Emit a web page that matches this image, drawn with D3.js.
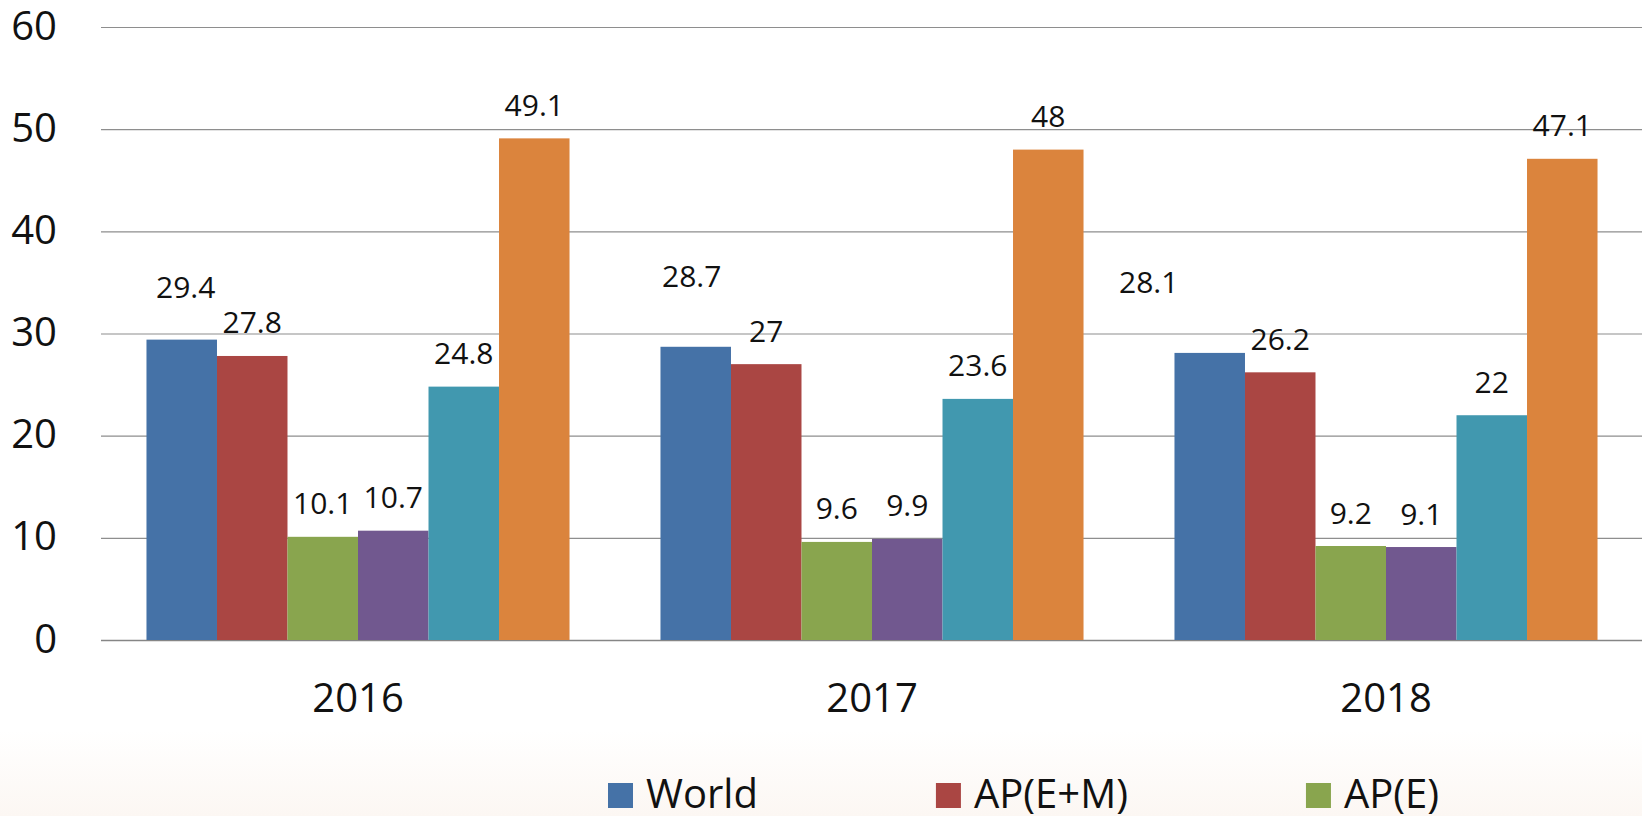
<!DOCTYPE html>
<html>
<head>
<meta charset="utf-8">
<script src="https://cdn.jsdelivr.net/npm/d3@7"></script>
<style>
  html, body { margin: 0; padding: 0; background: #fff; }
  svg { display: block; font-family: "Open Sans", "Noto Sans", sans-serif; }
</style>
</head>
<body>
<div id="chart"></div>
<script>
// --- data ---
const years = ["2016", "2017", "2018"];
const seriesNames = ["World", "AP(E+M)", "AP(E)", "Series 4", "Series 5", "Series 6"];
const world  = [29.4, 28.7, 28.1];
const apEM   = [27.8, 27, 26.2];
const apE    = [10.1, 9.6, 9.2];
const s4     = [10.7, 9.9, 9.1];
const s5     = [24.8, 23.6, 22];
const s6     = [49.1, 48, 47.1];
const yTicks = [0, 10, 20, 30, 40, 50, 60];

const seriesValues = [world, apEM, apE, s4, s5, s6];
const colors = ["#4572A7", "#AA4643", "#89A54E", "#71588F", "#4198AF", "#DB843D"];

// hand-moved data labels (World series), in px
const labelNudge = {
  "World|2016": [4, -19],
  "World|2017": [-4, -37],
  "World|2018": [-61, -37]
};

const W = 1642, H = 816;
const svg = d3.select("#chart").append("svg")
  .attr("width", W)
  .attr("height", H);

// faint warm fade at the bottom
const defs = svg.append("defs");
const grad = defs.append("linearGradient")
  .attr("id", "bgfade")
  .attr("x1", 0).attr("y1", 0).attr("x2", 0).attr("y2", 1);
grad.append("stop").attr("offset", "0%").attr("stop-color", "#ffffff");
grad.append("stop").attr("offset", "100%").attr("stop-color", "#fcf7f3");
svg.append("rect").attr("width", W).attr("height", H).attr("fill", "#fff");
svg.append("rect").attr("x", 0).attr("y", 730).attr("width", W).attr("height", H - 730)
  .attr("fill", "url(#bgfade)");

// --- scales ---
const x0 = d3.scaleBand().domain(years).range([101, 1643]).padding(0);
const x1 = d3.scaleBand().domain(seriesNames).range([0, x0.bandwidth()])
  .paddingInner(0).paddingOuter(0.645);
const y = d3.scaleLinear().domain([0, 60]).range([640, 27]);

// gridlines
const yAxis = d3.axisLeft(y).tickValues(yTicks).tickSize(0).tickPadding(0);
const gy = svg.append("g").attr("transform", "translate(0,0)");
gy.selectAll("line.grid")
  .data(yTicks)
  .enter().append("line")
  .attr("class", "grid")
  .attr("x1", 101).attr("x2", W)
  .attr("y1", d => y(d) + 0.5).attr("y2", d => y(d) + 0.5)
  .attr("stroke", d => d === 0 ? "#868686" : "#8e8e8e")
  .attr("stroke-width", d => d === 0 ? 1.6 : 1.2);

// y tick labels via axis
const axisG = svg.append("g").attr("transform", "translate(57,0)").call(yAxis);
axisG.select(".domain").remove();
axisG.selectAll("text")
  .attr("font-size", 40)
  .attr("fill", "#111")
  .attr("font-family", "'Open Sans', sans-serif")
  .attr("dy", "0.3em");

// x labels
const xAxis = d3.axisBottom(x0).tickSize(0).tickPadding(0);
const xg = svg.append("g").attr("transform", "translate(0,712)").call(xAxis);
xg.select(".domain").remove();
xg.selectAll("text")
  .attr("font-size", 40)
  .attr("fill", "#111")
  .attr("font-family", "'Open Sans', sans-serif")
  .attr("dy", 0);

// --- bars ---
const rows = [];
years.forEach((yr, i) => {
  seriesNames.forEach((s, j) => {
    rows.push({ year: yr, series: s, value: seriesValues[j][i], color: colors[j] });
  });
});

const bars = svg.append("g");
bars.selectAll("rect")
  .data(rows)
  .enter().append("rect")
  .attr("x", d => x0(d.year) + x1(d.series))
  .attr("y", d => y(d.value))
  .attr("width", x1.bandwidth())
  .attr("height", d => y(0) - y(d.value))
  .attr("fill", d => d.color);

// data labels
bars.selectAll("text")
  .data(rows)
  .enter().append("text")
  .attr("x", d => {
    const n = labelNudge[d.series + "|" + d.year];
    return x0(d.year) + x1(d.series) + x1.bandwidth() / 2 + (n ? n[0] : 0);
  })
  .attr("y", d => {
    const n = labelNudge[d.series + "|" + d.year];
    return y(d.value) - 22.5 + (n ? n[1] : 0);
  })
  .attr("text-anchor", "middle")
  .attr("font-size", 30)
  .attr("fill", "#111")
  .text(d => String(d.value));

// --- legend (only first row fits in the frame) ---
const legend = svg.append("g").attr("transform", "translate(608,0)");
let lx = 0;
seriesNames.slice(0, 3).forEach((s, j) => {
  const item = legend.append("g").attr("transform", `translate(${lx},0)`);
  item.append("rect")
    .attr("x", 0).attr("y", 783)
    .attr("width", 25).attr("height", 25)
    .attr("fill", colors[j]);
  const t = item.append("text")
    .attr("x", 38).attr("y", 808)
    .attr("font-size", 40)
    .attr("fill", "#111")
    .text(s);
  lx += 38 + t.node().getComputedTextLength() + 178;
});
</script>
</body>
</html>
